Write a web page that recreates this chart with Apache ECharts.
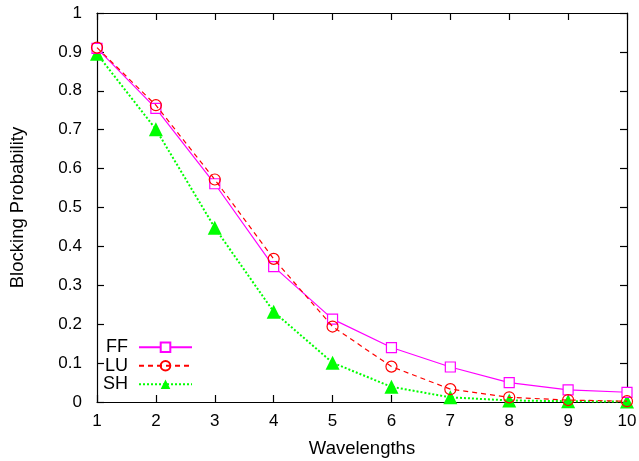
<!DOCTYPE html>
<html>
<head>
<meta charset="utf-8">
<script src="https://cdn.jsdelivr.net/npm/echarts@6/dist/echarts.min.js"></script>
<style>
  html, body { margin: 0; padding: 0; background: #fff; }
  #chart { width: 639px; height: 461px; }
</style>
</head>
<body>
<div id="chart"></div>
<script>
// Number of wavelengths on each link
const wavelengths = [1, 2, 3, 4, 5, 6, 7, 8, 9, 10];
// Blocking probability per wavelength-assignment scheme
const ffValues = [0.909, 0.755, 0.561, 0.348, 0.213, 0.140, 0.090, 0.050, 0.031, 0.025];
const luValues = [0.911, 0.763, 0.572, 0.368, 0.194, 0.091, 0.033, 0.012, 0.005, 0.002];
const shValues = [0.895, 0.701, 0.448, 0.232, 0.101, 0.039, 0.012, 0.004, 0.002, 0.001];

const FONT = 'Liberation Sans, Arial, Helvetica, sans-serif';

function pairs(ys) { return wavelengths.map((x, i) => [x, ys[i]]); }

const chart = echarts.init(document.getElementById('chart'));

const axisLine = { show: true, onZero: false, lineStyle: { color: '#000', width: 1.2 } };
const tick = { show: true, inside: true, length: 7, lineStyle: { color: '#000', width: 1.2 } };

chart.setOption({
  animation: false,
  backgroundColor: '#fff',
  grid: { left: 97, right: 12, top: 13, bottom: 59, containLabel: false, outerBoundsMode: 'none' },
  xAxis: [
    {
      type: 'value', min: 1, max: 10, interval: 1, position: 'bottom',
      name: 'Wavelengths', nameLocation: 'middle', nameGap: 37,
      nameTextStyle: { fontFamily: FONT, fontSize: 18.5, color: '#000' },
      axisLine, axisTick: tick, splitLine: { show: false },
      axisLabel: { fontFamily: FONT, fontSize: 17, color: '#000', margin: 11 }
    },
    {
      type: 'value', min: 1, max: 10, interval: 1, position: 'top',
      axisLine, axisTick: tick, splitLine: { show: false }, axisLabel: { show: false }
    }
  ],
  yAxis: [
    {
      type: 'value', min: 0, max: 1, interval: 0.1, position: 'left',
      name: 'Blocking Probability', nameLocation: 'middle', nameGap: 70, nameRotate: 90,
      nameTextStyle: { fontFamily: FONT, fontSize: 18.5, color: '#000' },
      axisLine, axisTick: tick, splitLine: { show: false },
      axisLabel: {
        fontFamily: FONT, fontSize: 17, color: '#000', margin: 15,
        formatter: v => String(Math.round(v * 10) / 10)
      }
    },
    {
      type: 'value', min: 0, max: 1, interval: 0.1, position: 'right',
      axisLine, axisTick: tick, splitLine: { show: false }, axisLabel: { show: false }
    }
  ],
  legend: {
    orient: 'vertical', left: 98, top: 333, align: 'right',
    itemWidth: 53, itemHeight: 12, itemGap: 0,
    textStyle: { fontFamily: FONT, fontSize: 18, color: '#000', lineHeight: 18.5, padding: [0, 6, 0, 0] },
    data: ['FF', 'LU', 'SH']
  },
  series: [
    {
      name: 'FF', type: 'line', data: pairs(ffValues),
      symbol: 'rect', symbolSize: 10,
      lineStyle: { color: '#ff00ff', width: 1.2, type: 'solid' },
      itemStyle: { color: '#fff', borderColor: '#ff00ff', borderWidth: 1.2 },
      z: 3
    },
    {
      name: 'LU', type: 'line', data: pairs(luValues),
      symbol: 'circle', symbolSize: 11,
      lineStyle: { color: '#ff0000', width: 1.2, type: [5, 4] },
      itemStyle: { color: 'rgba(255,255,255,0)', borderColor: '#ff0000', borderWidth: 1.2 },
      z: 4
    },
    {
      name: 'SH', type: 'line', data: pairs(shValues),
      symbol: 'triangle', symbolSize: 14,
      lineStyle: { color: '#00ff00', width: 2, type: [2, 2] },
      itemStyle: { color: '#00ff00', borderColor: '#00ff00', borderWidth: 0 },
      z: 2
    }
  ]
});
</script>
</body>
</html>
